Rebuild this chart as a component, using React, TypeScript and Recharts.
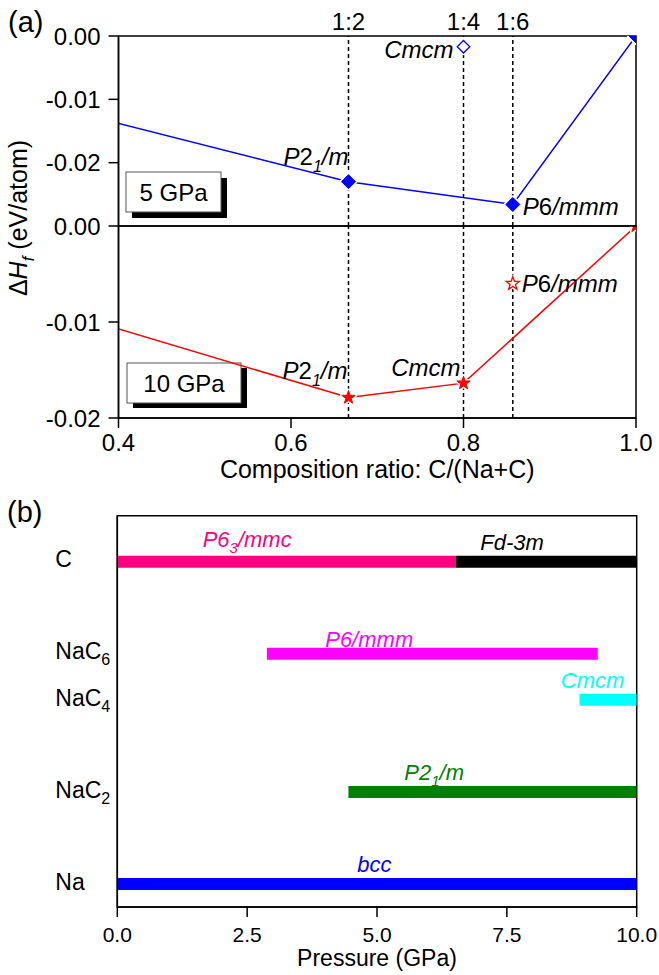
import React from 'react'
import {
  ComposedChart,
  Line,
  Scatter,
  XAxis,
  YAxis,
  ReferenceLine,
  ReferenceArea,
} from 'recharts'

// ---------- (a) formation enthalpy vs composition C/(Na+C) ----------
// 5 GPa hull: Na, NaC2, NaC6, C
const hullComp5 = [0, 2 / 3, 6 / 7, 1]
const hullEnergy5 = [0, -0.023, -0.0266, 0]
const hullPhase5 = ['', 'P2_1/m', 'P6/mmm', '']
// 5 GPa point above the hull
const offComp5 = [0.8]
const offEnergy5 = [-0.0017]
const offPhase5 = ['Cmcm']

// 10 GPa hull: Na, NaC2, NaC4, C
const hullComp10 = [0, 2 / 3, 0.8, 1]
const hullEnergy10 = [0, -0.01787, -0.01637, 0]
const hullPhase10 = ['', 'P2_1/m', 'Cmcm', '']
const offComp10 = [6 / 7]
const offEnergy10 = [-0.006]
const offPhase10 = ['P6/mmm']

const ratioComp = [2 / 3, 0.8, 6 / 7]
const ratioLabels = ['1:2', '1:4', '1:6']
const compTicks = [0.4, 0.6, 0.8, 1.0]
const energyTicks5 = [-0.02, -0.01, 0]
const energyTicks10 = [-0.02, -0.01, 0]

// ---------- (b) stable pressure ranges ----------
const compounds = ['Na', 'NaC_2', 'NaC_4', 'NaC_6', 'C']
const compoundRow = [0, 1, 2, 2.5, 3.5]
const phases = ['P6_3/mmc', 'Fd-3m', 'P6/mmm', 'Cmcm', 'P2_1/m', 'bcc']
const phaseOf = ['C', 'C', 'NaC_6', 'NaC_4', 'NaC_2', 'Na']
const phaseFrom = [0, 6.52, 2.88, 8.9, 4.45, 0]
const phaseTo = [6.52, 10, 9.25, 10, 10, 10]
const phaseLabelAt = [2.5, 7.6, 4.85, 9.15, 6.1, 4.95]
const pressureTicks = [0, 2.5, 5, 7.5, 10]

// styles
const phaseColors = ['#ff0080', '#000000', '#ff00ff', '#00ffff', '#008000', '#0000ff']
const barLift: Record<string, number> = { 'P6_3/mmc': 15, 'P6/mmm': 7 }
type Place = [('start' | 'end'), number, number]
const place5: Record<string, Place> = {
  'P2_1/m': ['end', 0, -17],
  'P6/mmm': ['start', 10, 11],
  Cmcm: ['end', -10, 11],
}
const place10: Record<string, Place> = {
  'P2_1/m': ['end', -1, -19],
  Cmcm: ['end', -3, -7],
  'P6/mmm': ['start', 9, 8],
}
const FONT = '"Liberation Sans", Arial, Helvetica, sans-serif'
const axisStyle = { stroke: '#000', strokeWidth: 1.5 }

// rich text: "_x" makes x a subscript
function Rich({ s, size, italic, uprightDigits }: { s: string; size: number; italic?: boolean; uprightDigits?: boolean }) {
  const runs: { t: string; sub: boolean; num: boolean }[] = []
  for (let i = 0; i < s.length; i++) {
    let ch = s[i]
    let sub = false
    if (ch === '_') {
      sub = true
      i++
      ch = s[i]
    }
    const num = !!uprightDigits && !sub && /[0-9]/.test(ch)
    const last = runs[runs.length - 1]
    if (last && !sub && !last.sub && last.num === num) last.t += ch
    else runs.push({ t: ch, sub, num })
  }
  let down = false
  const shift = Math.round(size * 0.28)
  return (
    <>
      {runs.map((r, i) => {
        let dy: number | undefined
        if (r.sub && !down) {
          dy = shift
          down = true
        } else if (!r.sub && down) {
          dy = -shift
          down = false
        }
        return (
          <tspan
            key={i}
            dy={dy}
            fontSize={r.sub ? Math.round(size * 0.68) : size}
            fontStyle={italic && !r.num ? 'italic' : 'normal'}
          >
            {r.t}
          </tspan>
        )
      })}
    </>
  )
}

function diamondPts(cx: number, cy: number, r: number) {
  return `${cx},${cy - r} ${cx + r},${cy} ${cx},${cy + r} ${cx - r},${cy}`
}
function starPts(cx: number, cy: number, R: number, r: number) {
  const pts: string[] = []
  for (let i = 0; i < 10; i++) {
    const a = -Math.PI / 2 + (i * Math.PI) / 5
    const rad = i % 2 === 0 ? R : r
    pts.push(`${cx + rad * Math.cos(a)},${cy + rad * Math.sin(a)}`)
  }
  return pts.join(' ')
}

function Marker({ cx, cy, kind, filled, color }: { cx: number; cy: number; kind: 'diamond' | 'star'; filled: boolean; color: string }) {
  const pts = kind === 'diamond' ? diamondPts(cx, cy, filled ? 7 : 6.3) : starPts(cx, cy, 7, 2.8)
  return (
    <g>
      <polygon points={pts} fill="#fff" stroke="#fff" strokeWidth={4} strokeLinejoin="round" />
      <polygon points={pts} fill={filled ? color : '#fff'} stroke={color} strokeWidth={filled ? 1 : 1.3} />
    </g>
  )
}

function PhaseLabel({ cx, cy, phase, place }: { cx: number; cy: number; phase: string; place: Record<string, Place> }) {
  if (!phase || !place[phase]) return null
  const [anchor, dx, dy] = place[phase]
  return (
    <text x={cx + dx} y={cy + dy} textAnchor={anchor} fill="#000">
      <Rich s={phase} size={24} italic uprightDigits />
    </text>
  )
}

const hullDot =
  (names: string[], place: Record<string, Place>, kind: 'diamond' | 'star', color: string) =>
  (p: any) => (
    <g key={`dot-${p.index}`}>
      <Marker cx={p.cx} cy={p.cy} kind={kind} filled color={color} />
      <PhaseLabel cx={p.cx} cy={p.cy} phase={names[p.index]} place={place} />
    </g>
  )

const offShape =
  (place: Record<string, Place>, kind: 'diamond' | 'star', color: string) =>
  (p: any) => (
    <g>
      <Marker cx={p.cx} cy={p.cy} kind={kind} filled={false} color={color} />
      <PhaseLabel cx={p.cx} cy={p.cy} phase={p.payload.phase} place={place} />
    </g>
  )

const EnergyTick = (p: any) => (
  <text x={p.x} y={p.y} dy="0.355em" textAnchor="end" fontSize={24} fill="#000">
    {Number(p.payload.value).toFixed(2)}
  </text>
)
const CompTick = (p: any) => (
  <text x={p.x} y={p.y} dy="0.71em" textAnchor="middle" fontSize={24} fill="#000">
    {Number(p.payload.value).toFixed(1)}
  </text>
)
const PressureTick = (p: any) => (
  <text x={p.x} y={p.y} dy="0.71em" textAnchor="middle" fontSize={21} fill="#000">
    {Number(p.payload.value).toFixed(1)}
  </text>
)
const CompoundTick = (p: any) => {
  const name = compounds[compoundRow.indexOf(p.payload.value)]
  return (
    <text x={p.x - 62} y={p.y} dy="0.355em" textAnchor="start" fill="#000">
      <Rich s={name} size={23} />
    </text>
  )
}

export default function App() {
  const hull5 = hullComp5.map((x, i) => ({ x, y: hullEnergy5[i] }))
  const hull10 = hullComp10.map((x, i) => ({ x, y: hullEnergy10[i] }))
  const off5 = offComp5.map((x, i) => ({ x, y: offEnergy5[i], phase: offPhase5[i] }))
  const off10 = offComp10.map((x, i) => ({ x, y: offEnergy10[i], phase: offPhase10[i] }))
  const barLabels = phases.map((ph, i) => ({
    x: phaseLabelAt[i],
    y: compoundRow[compounds.indexOf(phaseOf[i])],
    phase: ph,
    color: phaseColors[i],
  }))

  const abs = { position: 'absolute' as const, left: 0 }

  return (
    <div style={{ position: 'absolute', left: 0, top: 0, width: 659, height: 975, background: '#fff', fontFamily: FONT }}>
      {/* panel letters, axis title, pressure boxes */}
      <svg width={659} height={975} style={{ ...abs, top: 0 }}>
        <text x={8} y={32} fontSize={29} fill="#000">(a)</text>
        <text x={7} y={522} fontSize={29} fill="#000">(b)</text>
        <text transform="translate(27,218) rotate(-90)" textAnchor="middle" fontSize={25} fill="#000">
          <tspan>Δ</tspan>
          <tspan fontStyle="italic">H</tspan>
          <tspan fontStyle="italic" fontSize={17} dy={7}>f</tspan>
          <tspan dy={-7}> (eV/atom)</tspan>
        </text>
        <rect x={132} y={178} width={95} height={40} fill="#000" />
        <rect x={126} y={172} width={95} height={40} fill="#fff" stroke="#555" strokeWidth={1} />
        <text x={173.5} y={200.5} textAnchor="middle" fontSize={24} fill="#000">5 GPa</text>
        <rect x={133} y={368} width={114} height={40} fill="#000" />
        <rect x={127} y={363} width={114} height={40} fill="#fff" stroke="#555" strokeWidth={1} />
        <text x={184} y={391.5} textAnchor="middle" fontSize={24} fill="#000">10 GPa</text>
      </svg>

      {/* (a) 10 GPa, lower half */}
      <div style={{ ...abs, top: 0 }}>
        <ComposedChart width={659} height={490} margin={{ top: 226, right: 23, bottom: 0, left: 0 }}>
          <XAxis
            type="number"
            dataKey="x"
            domain={[0.4, 1]}
            allowDataOverflow
            ticks={compTicks}
            interval={0}
            height={72}
            tickSize={10}
            tickMargin={6}
            tick={CompTick}
            axisLine={axisStyle}
            tickLine={axisStyle}
            label={{ value: 'Composition ratio: C/(Na+C)', position: 'insideBottom', offset: 12, fill: '#000', fontSize: 25 }}
          />
          <YAxis
            type="number"
            dataKey="y"
            domain={[-0.02, 0]}
            allowDataOverflow
            ticks={energyTicks10}
            interval={0}
            width={118.5}
            tickSize={10}
            tickMargin={8}
            tick={EnergyTick}
            axisLine={axisStyle}
            tickLine={axisStyle}
          />
          <ReferenceArea x1={0.4} x2={1} y1={-0.02} y2={0} fill="none" fillOpacity={0} stroke="#000" strokeWidth={1.5} />
          {ratioComp.map((c) => (
            <ReferenceLine key={c} x={c} stroke="#000" strokeWidth={1.5} strokeDasharray="4 3" />
          ))}
          <Line
            data={hull10}
            dataKey="y"
            stroke="#ff0000"
            strokeWidth={1.5}
            dot={hullDot(hullPhase10, place10, 'star', '#ff0000')}
            activeDot={false}
            isAnimationActive={false}
          />
          <Scatter data={off10} dataKey="y" shape={offShape(place10, 'star', '#ff0000')} isAnimationActive={false} />
        </ComposedChart>
      </div>

      {/* (a) 5 GPa, upper half */}
      <div style={{ ...abs, top: 0 }}>
        <ComposedChart width={659} height={240} margin={{ top: 36, right: 23, bottom: 14, left: 0 }}>
          <XAxis type="number" dataKey="x" domain={[0.4, 1]} allowDataOverflow hide />
          <YAxis
            type="number"
            dataKey="y"
            domain={[-0.03, 0]}
            allowDataOverflow
            ticks={energyTicks5}
            interval={0}
            width={118.5}
            tickSize={10}
            tickMargin={8}
            tick={EnergyTick}
            axisLine={axisStyle}
            tickLine={axisStyle}
          />
          <ReferenceArea x1={0.4} x2={1} y1={-0.03} y2={0} fill="none" fillOpacity={0} stroke="#000" strokeWidth={1.5} />
          {ratioComp.map((c, i) => (
            <ReferenceLine
              key={c}
              x={c}
              stroke="#000"
              strokeWidth={1.5}
              strokeDasharray="4 3"
              label={{ value: ratioLabels[i], position: 'top', offset: 6, fill: '#000', fontSize: 24 }}
            />
          ))}
          <Line
            data={hull5}
            dataKey="y"
            stroke="#0000ff"
            strokeWidth={1.5}
            dot={hullDot(hullPhase5, place5, 'diamond', '#0000ff')}
            activeDot={false}
            isAnimationActive={false}
          />
          <Scatter data={off5} dataKey="y" shape={offShape(place5, 'diamond', '#0000ff')} isAnimationActive={false} />
        </ComposedChart>
      </div>

      {/* (b) pressure ranges */}
      <div style={{ ...abs, top: 490 }}>
        <ComposedChart width={659} height={485} margin={{ top: 25.7, right: 22.3, bottom: 0, left: 0 }}>
          <XAxis
            type="number"
            dataKey="x"
            domain={[0, 10]}
            allowDataOverflow
            ticks={pressureTicks}
            interval={0}
            height={68}
            tickSize={10}
            tickMargin={10}
            tick={PressureTick}
            axisLine={axisStyle}
            tickLine={axisStyle}
            label={{ value: 'Pressure (GPa)', position: 'insideBottom', offset: 9, fill: '#000', fontSize: 23 }}
          />
          <YAxis
            type="number"
            dataKey="y"
            domain={[-0.25, 4]}
            allowDataOverflow
            ticks={compoundRow}
            interval={0}
            width={117.3}
            tickSize={0}
            tickMargin={0}
            tickLine={false}
            tick={CompoundTick}
            axisLine={axisStyle}
          />
          <ReferenceArea x1={0} x2={10} y1={-0.25} y2={4} fill="none" fillOpacity={0} stroke="#000" strokeWidth={1.5} />
          {phases.map((ph, i) => {
            const row = compoundRow[compounds.indexOf(phaseOf[i])]
            return (
              <Line
                key={ph}
                data={[
                  { x: phaseFrom[i], y: row },
                  { x: phaseTo[i], y: row },
                ]}
                dataKey="y"
                stroke={phaseColors[i]}
                strokeWidth={12}
                dot={false}
                activeDot={false}
                isAnimationActive={false}
              />
            )
          })}
          <Scatter
            data={barLabels}
            dataKey="y"
            isAnimationActive={false}
            shape={(p: any) => (
              <text x={p.cx} y={p.cy - (barLift[p.payload.phase] ?? 12)} textAnchor="middle" fill={p.payload.color}>
                <Rich s={p.payload.phase} size={22} italic />
              </text>
            )}
          />
        </ComposedChart>
      </div>
    </div>
  )
}
